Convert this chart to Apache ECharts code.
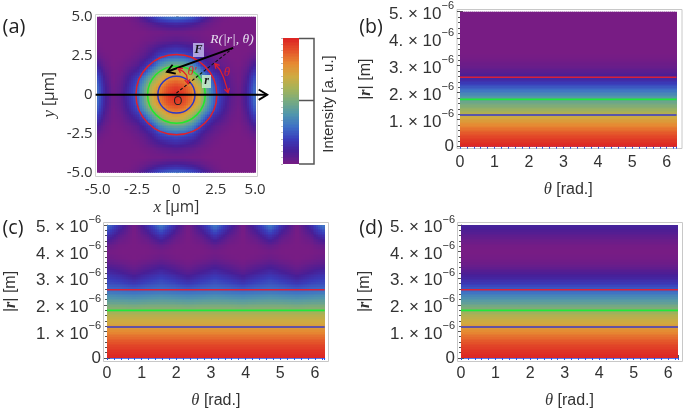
<!DOCTYPE html>
<html><head><meta charset="utf-8">
<style>html,body{margin:0;padding:0;background:#fff}#c{width:685px;height:410px;filter:blur(0.45px)}</style>
<script src="https://cdn.jsdelivr.net/npm/echarts@6/dist/echarts.min.js"></script>
</head><body><div id="c"></div>
<script>
// colour ramp (Intensity 0..100, step 10)
const rampStops = [[120,28,132],[72,30,150],[58,60,186],[62,112,198],[80,150,172],[118,170,128],[165,178,88],[208,170,65],[230,138,50],[228,85,42],[220,35,35]];
// (a) Intensity on x,y quadrant; picture is mirror-symmetric about both axes
const aAxisQuad = [0,0.5,1,1.5,2,2.5,3,3.5,4,4.5,5];
const aQuad = [
[100,95,84,69,46,27,16,6,2,12,32],
[95,91,81,66,44,25,14,5,2,11,30],
[84,81,69,54,36,21,11,4,1,9,26],
[69,66,54,38,21,12,7,2,1,6,18],
[46,44,36,21,12,6,3,1,0,3,10],
[27,25,21,12,6,3,1,0,0,1,4],
[16,14,11,7,3,1,0,0,0,0,1],
[6,5,4,2,1,0,0,0,0,0,0],
[2,2,1,1,0,0,0,0,0,0,0],
[12,11,9,6,3,1,0,0,0,0,0],
[32,30,26,18,10,4,1,0,0,0,0]];
const rLevels = [0,0.25,0.5,0.75,1,1.25,1.5,1.75,2,2.25,2.5,2.75,3,3.25,3.5,3.75,4,4.25,4.5,4.75,5];
// (b) and (d) are flat in theta
const bProfile = [100,96,90,82,74,62,53,45,35,24,14,7,3,1,0,0,0,0,0,0,0];
const dProfile = [100,97,93,87,80,73,66,58,48,39,30,21,13,8,3,1,0,1,4,8,12];
// (c) columns run theta = 0 .. 2 pi in steps of pi/8
const thetaCols = [0,0.393,0.785,1.178,1.571,1.963,2.356,2.749,3.142,3.534,3.927,4.32,4.712,5.105,5.498,5.89,6.283];
const cRows = [
[100,100,100,100,100,100,100,100,100,100,100,100,100,100,100,100,100],
[97,97,97,97,97,97,97,97,97,97,97,97,97,97,97,97,97],
[93,93,93,93,93,93,93,93,93,93,93,93,93,93,93,93,93],
[87,87,87,87,87,87,87,87,87,87,87,87,87,87,87,87,87],
[80,80,80,80,80,80,80,80,80,80,80,80,80,80,80,80,80],
[73,73,73,73,73,73,73,73,73,73,73,73,73,73,73,73,73],
[67,67,67,67,67,67,67,67,67,67,67,67,67,67,67,67,67],
[59,59,59,59,59,59,59,59,59,59,59,59,59,59,59,59,59],
[50,50,49,50,50,50,49,50,50,50,49,50,50,50,49,50,50],
[41,40,39,40,41,40,39,40,41,40,39,40,41,40,39,40,41],
[32,31,30,31,32,31,30,31,32,31,30,31,32,31,30,31,32],
[25,24,21,24,26,24,21,24,26,24,21,24,26,24,21,24,25],
[20,17,12,17,21,17,12,17,21,17,12,17,21,17,12,17,20],
[14,10,6,10,14,10,6,10,14,10,6,10,14,10,6,10,14],
[7,5,2,5,8,5,2,5,8,5,2,5,8,5,2,5,7],
[3,1,0,1,3,1,0,1,3,1,0,1,3,1,0,1,3],
[1,0,0,0,1,0,0,0,1,0,0,0,1,0,0,0,1],
[5,1,0,1,5,1,0,1,5,1,0,1,5,1,0,1,5],
[13,4,0,4,13,4,0,4,13,4,0,4,13,4,0,4,13],
[23,9,0,9,23,9,0,9,23,9,0,9,23,9,0,9,23],
[33,15,1,15,33,15,1,15,33,15,1,15,33,15,1,15,33]];
const thetaEnds = [0,6.283];
const ringRadii = [2.57,1.83,1.18];
const ringColors = ['#e0202c','#1fe82e','#2a36c8'];
const lineLevelsB = [2.57,1.75,1.17];
const lineLevelsCD = [2.57,1.79,1.17];
const lineColors = ['#d8203a','#1fe83a','#3a3ac8'];
const barLevels = [0,10,20,30,40,50,60,70,80,90,100];
// annotation geometry in the data units of panel (a)
const axisArrow = [[-5.13,0],[5.77,0]];
const forceArrow = [[3.6,3.0],[-0.6,1.47]];
const radiusDash = [[0,0.1],[3.6,3.0]];
const thetaArc = [[2.45,1.98],[2.77,1.6],[3.0,1.1],[3.17,0.55],[3.28,0.13]];
const thetaPrimeArc = [[0.1,1.67],[0.42,1.5],[0.65,1.25],[0.73,0.7]];

function rampColor(v){
  const t=Math.max(0,Math.min(100,v))/10, i=Math.min(9,Math.floor(t)), f=t-i, a=rampStops[i], b=rampStops[i+1];
  return 'rgb('+[0,1,2].map(k=>Math.round(a[k]+(b[k]-a[k])*f)).join(',')+')';
}
// one item per grid cell: [x0,y0,x1,y1,v00,v10,v01,v11]
function cellData(xs,ys,rows){
  const out=[];
  for(let j=0;j<ys.length-1;j++)for(let i=0;i<xs.length-1;i++)
    out.push([xs[i],ys[j],xs[i+1],ys[j+1],rows[j][i],rows[j][i+1],rows[j+1][i],rows[j+1][i+1]]);
  return out;
}
function renderCell(params,api){
  const p0=api.coord([api.value(0),api.value(1)]), p1=api.coord([api.value(2),api.value(3)]);
  const v00=api.value(4),v10=api.value(5),v01=api.value(6),v11=api.value(7);
  const nx=Math.max(1,Math.round(Math.abs(p1[0]-p0[0])/2)), ny=Math.max(1,Math.round(Math.abs(p1[1]-p0[1])/1.5));
  const children=[];
  for(let a=0;a<ny;a++)for(let b=0;b<nx;b++){
    const u=(b+.5)/nx,w=(a+.5)/ny;
    const v=(v00*(1-u)+v10*u)*(1-w)+(v01*(1-u)+v11*u)*w;
    const x0=Math.floor(p0[0]+(p1[0]-p0[0])*b/nx), x1=Math.ceil(p0[0]+(p1[0]-p0[0])*(b+1)/nx);
    const y1=Math.ceil(p0[1]+(p1[1]-p0[1])*a/ny), y0=Math.floor(p0[1]+(p1[1]-p0[1])*(a+1)/ny);
    children.push({type:'rect',shape:{x:x0,y:y0,width:x1-x0,height:y1-y0},style:{fill:rampColor(v)},silent:true});
  }
  return {type:'group',children};
}
function heat(gi,xs,ys,rows){
  return {type:'custom',xAxisIndex:gi.x,yAxisIndex:gi.y,clip:true,silent:true,animation:false,
    renderItem:renderCell,data:cellData(xs,ys,rows),encode:{x:[0,2],y:[1,3]},z:1};
}
function hLines(gi,levels){
  return levels.map((r,i)=>({type:'line',xAxisIndex:gi.x,yAxisIndex:gi.y,symbol:'none',silent:true,animation:false,z:3,
    lineStyle:{color:lineColors[i],width:i===1?1.7:1.5},data:[[thetaEnds[0],r],[thetaEnds[1],r]]}));
}
function vHead(api,from,to,len){
  const a=api.coord(from),b=api.coord(to),d=Math.atan2(b[1]-a[1],b[0]-a[0]),s=.55;
  return [[b[0]-len*Math.cos(d-s),b[1]-len*Math.sin(d-s)],b,[b[0]-len*Math.cos(d+s),b[1]-len*Math.sin(d+s)]];
}
function pathEl(pts,stroke,w,dash){
  return {type:'polyline',shape:{points:pts},style:{stroke,fill:null,lineWidth:w,lineDash:dash||null},silent:true};
}
function annotations(params,api){
  const ch=[];
  ringRadii.forEach((r,i)=>{
    const c=api.coord([0,0]),s=api.size([r,r]);
    ch.push({type:'ellipse',shape:{cx:c[0],cy:c[1],rx:s[0],ry:s[1]},style:{stroke:ringColors[i],fill:null,lineWidth:1.5},silent:true});
  });
  ch.push(pathEl(radiusDash.map(p=>api.coord(p)),'#111',1.1,[3,2]));
  [[forceArrow,1.9,9],[axisArrow,1.9,10]].forEach(([seg,w,h])=>{
    ch.push(pathEl(seg.map(p=>api.coord(p)),'#000',w));
    ch.push(pathEl(vHead(api,seg[0],seg[1],h),'#000',w));
  });
  [thetaArc,thetaPrimeArc].forEach(arc=>{
    ch.push(pathEl(arc.map(p=>api.coord(p)),'#e0202c',1.3));
    ch.push(pathEl(vHead(api,arc[1],arc[0],5),'#e0202c',1.3));
    ch.push(pathEl(vHead(api,arc[arc.length-2],arc[arc.length-1],5),'#e0202c',1.3));
  });
  return {type:'group',children:ch};
}

// expand the quadrant of (a) to the whole plane
const aXs = aAxisQuad.slice(1).reverse().map(v=>-v).concat(aAxisQuad);
const aRows = aXs.map(y=>aXs.map(x=>aQuad[aAxisQuad.indexOf(Math.abs(y))][aAxisQuad.indexOf(Math.abs(x))]));
const flatRows = p => p.map(v=>[v,v]);

const grids = [
 {left:97.7,top:16.7,width:157.4,height:156},
 {left:460,top:11.7,width:216.5,height:135},
 {left:107,top:225,width:217.7,height:135},
 {left:461,top:225,width:217,height:135},
 {left:283,top:38,width:16,height:126}
];
const txt='#333', liber='"Liberation Sans"';
function rTick(v){ return v===0?'{z|0}':'{a|'+v+'. × 10}{s|−6}'; }
const thetaName = {name:'{i|θ} [rad.]',nameLocation:'middle',nameTextStyle:{rich:{i:{fontFamily:'"Liberation Serif"',fontStyle:'italic',fontSize:16.5,color:txt}},fontFamily:liber,fontSize:16,color:txt}};
function thetaX(g,gap){
  return [{gridIndex:g,type:'value',min:0,max:6.283,interval:1,offset:3,position:'bottom',...thetaName,nameGap:gap,
    axisLine:{lineStyle:{color:'#aaa'}},axisTick:{inside:true,length:3,lineStyle:{color:'#555'}},minorTick:{show:true,splitNumber:5,length:2,lineStyle:{color:'#666'}},splitLine:{show:false},
    axisLabel:{margin:5,fontFamily:liber,fontSize:16,color:txt,showMaxLabel:false,formatter:v=>Number.isInteger(v)?String(v):''}},
   {gridIndex:g,type:'value',min:0,max:6.283,interval:1,offset:2,position:'top',
    axisLine:{lineStyle:{color:'#5a78e8'}},axisTick:{inside:true,length:2,lineStyle:{color:'#2a50e8'}},minorTick:{show:true,splitNumber:5,length:2,lineStyle:{color:'#2a50e8'}},splitLine:{show:false},axisLabel:{show:false}}];
}
function rY(g,gap){
  return [{gridIndex:g,type:'value',min:0,max:5,interval:1,offset:3,position:'left',
    name:'|{b|r}| [m]',nameLocation:'middle',nameGap:gap,nameRotate:90,nameTextStyle:{fontFamily:liber,fontSize:16,color:txt,rich:{b:{fontFamily:'"Liberation Serif"',fontStyle:'italic',fontWeight:'bold',fontSize:16,color:txt}}},
    axisLine:{lineStyle:{color:'#aaa'}},axisTick:{inside:true,length:3,lineStyle:{color:'#555'}},minorTick:{show:true,splitNumber:5,length:2,lineStyle:{color:'#555'}},splitLine:{show:false},
    axisLabel:{margin:3,formatter:rTick,rich:{z:{fontFamily:liber,fontSize:17,color:txt},a:{fontFamily:liber,fontSize:17,color:txt,padding:[5,0,0,0]},s:{fontFamily:liber,fontSize:11,color:txt,verticalAlign:'top'}}}},
   {gridIndex:g,type:'value',min:0,max:5,interval:1,offset:4,position:'right',
    axisLine:{lineStyle:{color:'#aaa'}},axisTick:{inside:true,length:3,lineStyle:{color:'#555'}},minorTick:{show:true,splitNumber:5,length:2,lineStyle:{color:'#555'}},splitLine:{show:false},axisLabel:{show:false}}];
}
const aLabel={margin:7,fontFamily:'"Open Sans"',fontSize:15,color:'#333',formatter:v=>v===0?'0':v.toFixed(1)};
const aName={fontFamily:'"Open Sans"',fontSize:15.5,color:txt,rich:{i:{fontFamily:'"Liberation Serif"',fontStyle:'italic',fontSize:17,color:txt}}};
const xAxis=[
 {gridIndex:0,type:'value',min:-5,max:5,interval:2.5,offset:3,name:'{i|x} [μm]',nameLocation:'middle',nameGap:21,nameTextStyle:aName,
  axisLine:{lineStyle:{color:'#ccc',width:1.5}},axisTick:{inside:true,length:2,lineStyle:{color:'#aaa'}},splitLine:{show:false},axisLabel:aLabel},
 ...thetaX(1,31),...thetaX(2,31),...thetaX(3,31),
 {gridIndex:4,type:'value',min:0,max:1,show:false}
];
const yAxis=[
 {gridIndex:0,type:'value',min:-5,max:5,interval:2.5,offset:2,name:'{i|y} [μm]',nameLocation:'middle',nameGap:38,nameRotate:90,nameTextStyle:aName,
  axisLine:{lineStyle:{color:'#ccc',width:1.5}},axisTick:{inside:true,length:2,lineStyle:{color:'#aaa'}},splitLine:{show:false},axisLabel:{...aLabel,margin:3}},
 ...rY(1,83),...rY(2,85),...rY(3,85),
 {gridIndex:4,type:'value',min:0,max:100,interval:20,axisLine:{show:false},axisLabel:{show:false},splitLine:{show:false},
  axisTick:{show:true,length:2,lineStyle:{color:'#bbb'}},minorTick:{show:true,splitNumber:4,length:2,lineStyle:{color:'#ccc'}}}
];
const idx={a:{x:0,y:0},b:{x:1,y:1},c:{x:3,y:3},d:{x:5,y:5},bar:{x:7,y:7}};
const series=[
 heat(idx.a,aXs,aXs,aRows),
 {type:'custom',xAxisIndex:0,yAxisIndex:0,clip:false,silent:true,animation:false,z:4,renderItem:annotations,data:[[0,0]],encode:{x:0,y:1}},
 heat(idx.b,thetaEnds,rLevels,flatRows(bProfile)),...hLines(idx.b,lineLevelsB),
 heat(idx.c,thetaCols,rLevels,cRows),...hLines(idx.c,lineLevelsCD),
 heat(idx.d,thetaEnds,rLevels,flatRows(dProfile)),...hLines(idx.d,lineLevelsCD),
 heat(idx.bar,[0,1],barLevels,barLevels.map(v=>[v,v]))
];
function label(t,x,y,font,fill,extra){
  return {type:'text',x,y,silent:true,style:Object.assign({text:t,font,fill,textAlign:'center',textVerticalAlign:'middle'},extra||{})};
}
const rectF=(x,y,w,h,s)=>({type:'rect',shape:{x,y,width:w,height:h},style:{fill:null,stroke:s,lineWidth:1},silent:true,z:0});
const graphic=[
 rectF(95.5,14.5,162,162,'#d0d0d0'),
 rectF(457,9.5,225,139,'#c8c8c8'),rectF(103.5,222.5,225,139,'#c8c8c8'),rectF(457.5,222.5,225,139,'#c8c8c8'),
 {type:'polyline',shape:{points:[[299,38.5],[314,38.5],[314,164],[299,164]]},style:{stroke:'#555',fill:null,lineWidth:1.5},silent:true},
 {type:'line',shape:{x1:299,y1:100.5,x2:314,y2:100.5},style:{stroke:'#555',lineWidth:1.5},silent:true},
 {type:'text',x:329,y:104,rotation:Math.PI/2,silent:true,style:{text:'Intensity [a. u.]',font:'15px "Liberation Sans"',fill:'#333',textAlign:'center',textVerticalAlign:'middle'}},
 label('(a)',14,27,'20px "Open Sans"','#222'),
 label('(b)',371,27,'19.5px "Open Sans"','#222'),
 label('(c)',13,228,'19.5px "Open Sans"','#222'),
 label('(d)',371,228,'19.5px "Open Sans"','#222'),
 {type:'rect',shape:{x:193,y:43,width:11,height:14},style:{fill:'rgba(190,185,235,0.85)'},silent:true,z:95},
 {type:'rect',shape:{x:202,y:75,width:9,height:13},style:{fill:'rgba(205,235,205,0.85)'},silent:true,z:95},
 {...label('F',198.5,50,'italic bold 12px "Liberation Serif"','#111'),z:96},
 {...label('r',206.5,81,'italic bold 12px "Liberation Serif"','#111'),z:96},
 {...label('R(|r|, θ)',232,39,'italic 13.5px "Liberation Serif"','#e6e0f0'),z:96},
 {...label('θ′',192,72,'italic 13px "Liberation Serif"','#e0202c'),z:96},
 {...label('θ',227,73,'italic 13px "Liberation Serif"','#e0202c'),z:96},
 {...label('O',178,102,'12px "Open Sans"','#222'),z:96}
];
const chart=echarts.init(document.getElementById('c'),null,{renderer:'canvas'});
chart.setOption({animation:false,backgroundColor:'#fff',grid:grids,xAxis,yAxis,series,graphic,tooltip:{show:false}});
</script></body></html>
